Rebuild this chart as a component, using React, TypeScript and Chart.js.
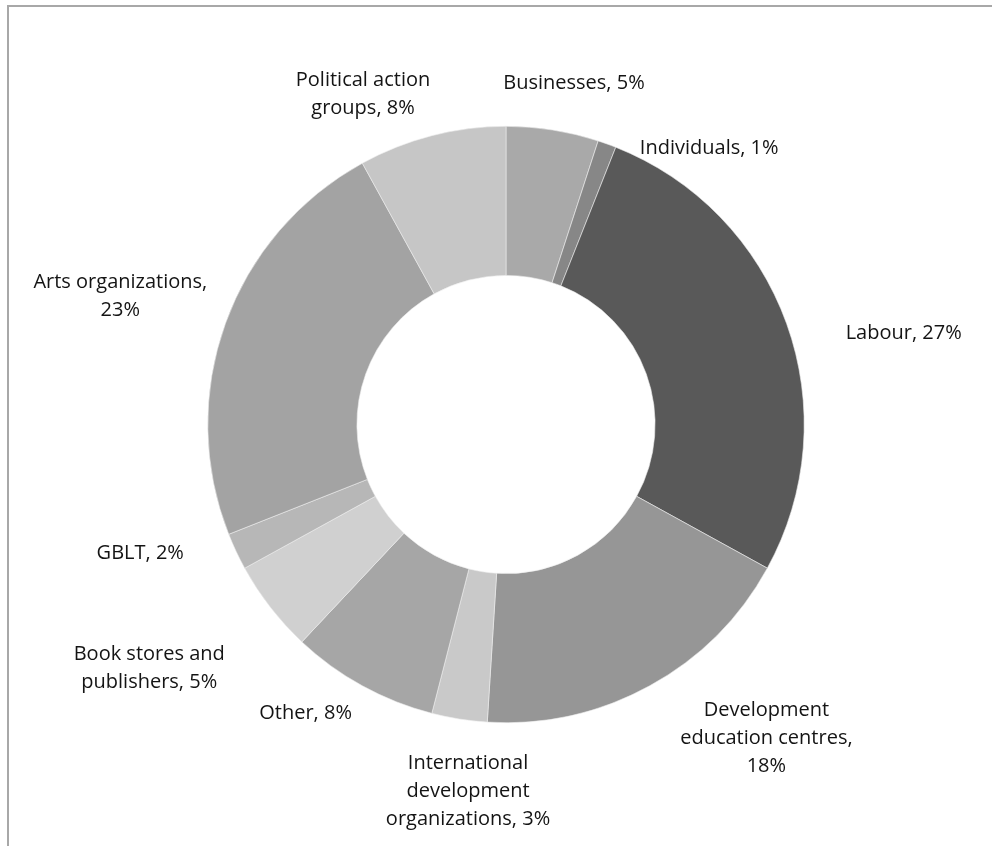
import React, { useEffect, useRef } from "react";
import { Chart, registerables } from "chart.js";

Chart.register(...registerables);

const categories = [
  "Businesses",
  "Individuals",
  "Labour",
  "Development education centres",
  "International development organizations",
  "Other",
  "Book stores and publishers",
  "GBLT",
  "Arts organizations",
  "Political action groups",
];

const values = [5, 1, 27, 18, 3, 8, 5, 2, 23, 8];

const sliceColors = [
  "#a9a9a9",
  "#878787",
  "#595959",
  "#969696",
  "#c9c9c9",
  "#a6a6a6",
  "#d0d0d0",
  "#b7b7b7",
  "#a3a3a3",
  "#c6c6c6",
];

// how each data label wraps (text = category + ", " + value + "%")
const labelLines = [
  ["Businesses, 5%"],
  ["Individuals, 1%"],
  ["Labour, 27%"],
  ["Development", "education centres,", "18%"],
  ["International", "development", "organizations, 3%"],
  ["Other, 8%"],
  ["Book stores and", "publishers, 5%"],
  ["GBLT, 2%"],
  ["Arts organizations,", "23%"],
  ["Political action", "groups, 8%"],
];

// nudges (px) of each label from its slice's mid-angle anchor at 1.2 x outer radius
const labelNudges: [number, number][] = [
  [12, 12],
  [82, 60],
  [61, 30],
  [88, 0],
  [18, 13],
  [-28, -25],
  [-74, 24],
  [-42, -24],
  [-49, -7],
  [-54, 16],
];

const FONT = '20px "Open Sans"';
const LINE_H = 28;

const outsideLabels = {
  id: "outsideLabels",
  afterDatasetsDraw(chart: any) {
    const ctx = chart.ctx;
    const meta = chart.getDatasetMeta(0);
    ctx.save();
    ctx.font = FONT;
    ctx.fillStyle = "#141414";
    ctx.textAlign = "center";
    ctx.textBaseline = "middle";
    meta.data.forEach((arc: any, i: number) => {
      const mid = (arc.startAngle + arc.endAngle) / 2;
      const r = arc.outerRadius * 1.2;
      const cx = arc.x + Math.cos(mid) * r + labelNudges[i][0];
      const cy = arc.y + Math.sin(mid) * r + labelNudges[i][1];
      const lines = labelLines[i];
      const top = cy - ((lines.length - 1) * LINE_H) / 2;
      lines.forEach((t, k) => ctx.fillText(t, cx, top + k * LINE_H));
    });
    ctx.restore();
  },
};

export default function App() {
  const ref = useRef<HTMLCanvasElement>(null);
  useEffect(() => {
    if (!ref.current) return;
    const chart = new Chart(ref.current, {
      type: "doughnut",
      data: {
        labels: categories,
        datasets: [
          {
            data: values,
            backgroundColor: sliceColors,
            borderColor: "#ececec",
            borderWidth: 0.6,
            hoverOffset: 0,
            offset: 0,
          },
        ],
      },
      options: {
        responsive: false,
        animation: false,
        devicePixelRatio: 1,
        cutout: "50%",
        layout: { padding: { top: 126, bottom: 123, left: 200, right: 180 } },
        plugins: { legend: { display: false }, tooltip: { enabled: false } },
      },
      plugins: [outsideLabels],
    });
    return () => chart.destroy();
  }, []);

  return (
    <div style={{ position: "fixed", left: 0, top: 0, width: 992, height: 846, overflow: "hidden", background: "#fff" }}>
      <div
        style={{
          position: "absolute",
          left: 7,
          top: 5,
          width: 1100,
          height: 1000,
          borderTop: "2px solid #a8a8a8",
          borderLeft: "2px solid #a8a8a8",
        }}
      />
      <canvas ref={ref} width={992} height={846} style={{ position: "absolute", left: 0, top: 0 }} />
    </div>
  );
}
